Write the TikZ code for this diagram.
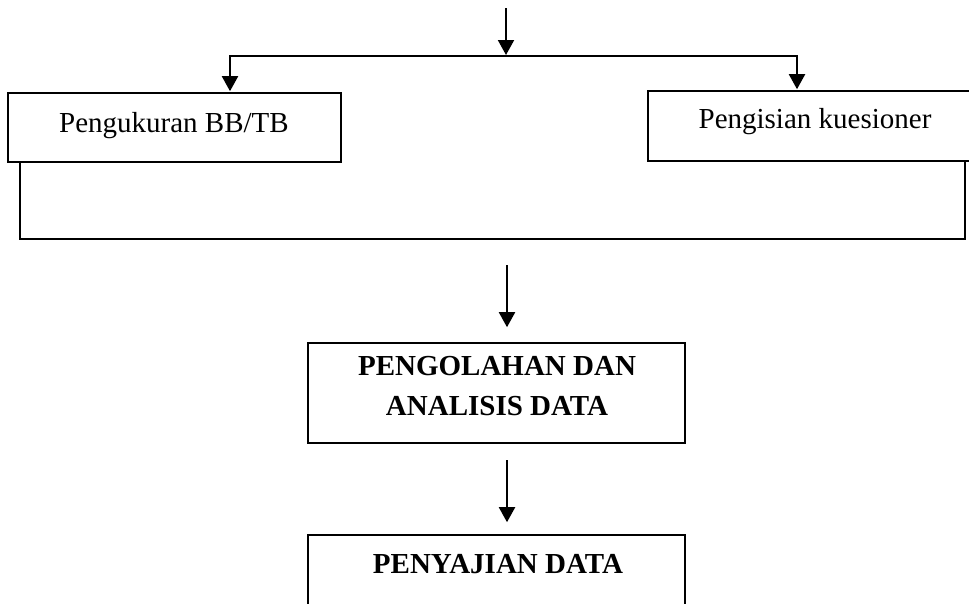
\documentclass[tikz,border=0pt]{standalone}
\usepackage{fontspec}
\setmainfont{Liberation Serif}
\usetikzlibrary{arrows.meta}
\begin{document}
\begin{tikzpicture}[x=1pt,y=-1pt,
  line width=2pt,
  boxnode/.style={draw, line width=1.6pt, inner sep=0pt},
  lbl/.style={inner sep=0pt, anchor=base, font=\fontsize{29pt}{40pt}\selectfont},
  blbl/.style={lbl, font=\fontsize{29pt}{40pt}\selectfont\bfseries},
  arr/.style={-{Triangle[length=15pt,width=16pt]}, line width=2pt}]
\useasboundingbox (0,0) rectangle (969,603);
\clip (0,0) rectangle (969,603);
% boxes
\node[boxnode, minimum width=333pt, minimum height=69pt] (b1) at (174.5,127.5) {};
\node[boxnode, minimum width=334pt, minimum height=70pt] (b2) at (815,126) {};
\node[boxnode, minimum width=377pt, minimum height=100pt] (b3) at (496.5,393) {};
\node[boxnode, minimum width=377pt, minimum height=100pt] (b4) at (496.5,585) {};
% labels
\node[lbl] (t1) at (174,132) {Pengukuran BB/TB};
\node[lbl] (t2) at (815,128) {Pengisian kuesioner};
\node[blbl] (t3a) at (497,375) {PENGOLAHAN DAN};
\node[blbl] (t3b) at (497,415) {ANALISIS DATA};
\node[blbl] (t4) at (498,573) {PENYAJIAN DATA};
% connectors
\coordinate (top) at (506,8);
\coordinate (split) at (506,56);
\draw[arr] (top) -- ([yshift=1pt]split);
\draw[arr] (split) -| ([xshift=55.5pt,yshift=1pt]b1.north);
\draw[arr] (split) -| ([xshift=-18pt,yshift=1pt]b2.north);
\draw[line width=2pt] ([xshift=13pt]b1.south west) -- ++(0,76) -| ([xshift=-18pt]b2.south east);
\coordinate (m1) at (507,265);
\draw[arr] (m1) -- ([yshift=15pt]b3.north -| m1);
\coordinate (m2) at (507,460);
\draw[arr] (m2) -- ([yshift=12pt]b4.north -| m2);
\end{tikzpicture}
\end{document}
